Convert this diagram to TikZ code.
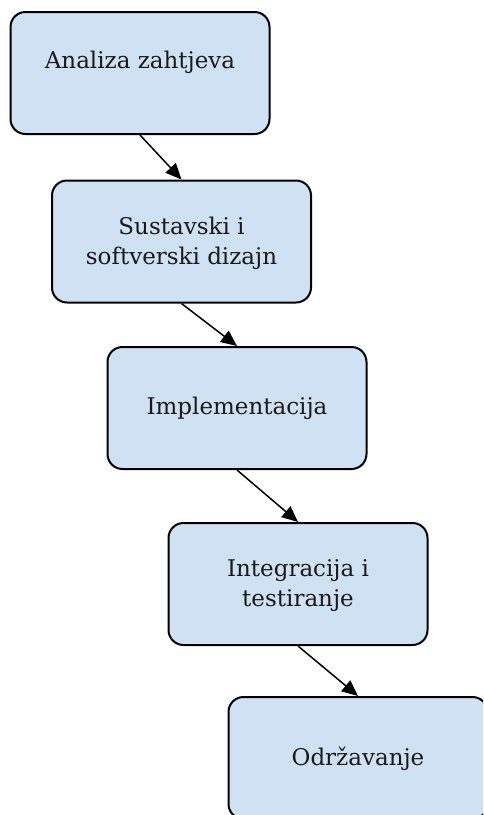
\documentclass[tikz,border=0pt]{standalone}
\usepackage{fontspec}
\setmainfont{DejaVu Serif}
\usetikzlibrary{arrows.meta}
\definecolor{boxfill}{HTML}{CFE2F3}
\begin{document}
\begin{tikzpicture}[x=1pt,y=-1pt,
  stagebox/.style={draw=black, line width=2pt, fill=boxfill, rounded corners=15pt,
    minimum width=259pt, minimum height=122pt, inner sep=0pt},
  stagetext/.style={font=\fontsize{23}{30}\selectfont, align=center, text=black!90},
  flow/.style={line width=1.5pt, -{Triangle[length=16pt,width=14pt]}}]
\useasboundingbox (0,0) rectangle (483,815);
\clip (0,0) rectangle (483,815);
\node[stagebox] (a) at (140,73) {};
\node[stagetext] (ta) at (140,62) {Analiza zahtjeva};
\node[stagebox] (b) at (181.5,241.5) {};
\node[stagetext] (tb) at (181.5,243) {Sustavski i\\softverski dizajn};
\node[stagebox] (c) at (237,408) {};
\node[stagetext] (tc) at (237,408) {Implementacija};
\node[stagebox] (d) at (298,584) {};
\node[stagetext] (td) at (298,586) {Integracija i\\testiranje};
\node[stagebox] (e) at (358,758) {};
\node[stagetext] (te) at (358,759) {Održavanje};
\draw[flow] (a.south) -- (b.north);
\draw[flow] (b.south) -- (c.north);
\draw[flow] (c.south) -- (d.north);
\draw[flow] (d.south) -- (e.north);
\end{tikzpicture}
\end{document}
